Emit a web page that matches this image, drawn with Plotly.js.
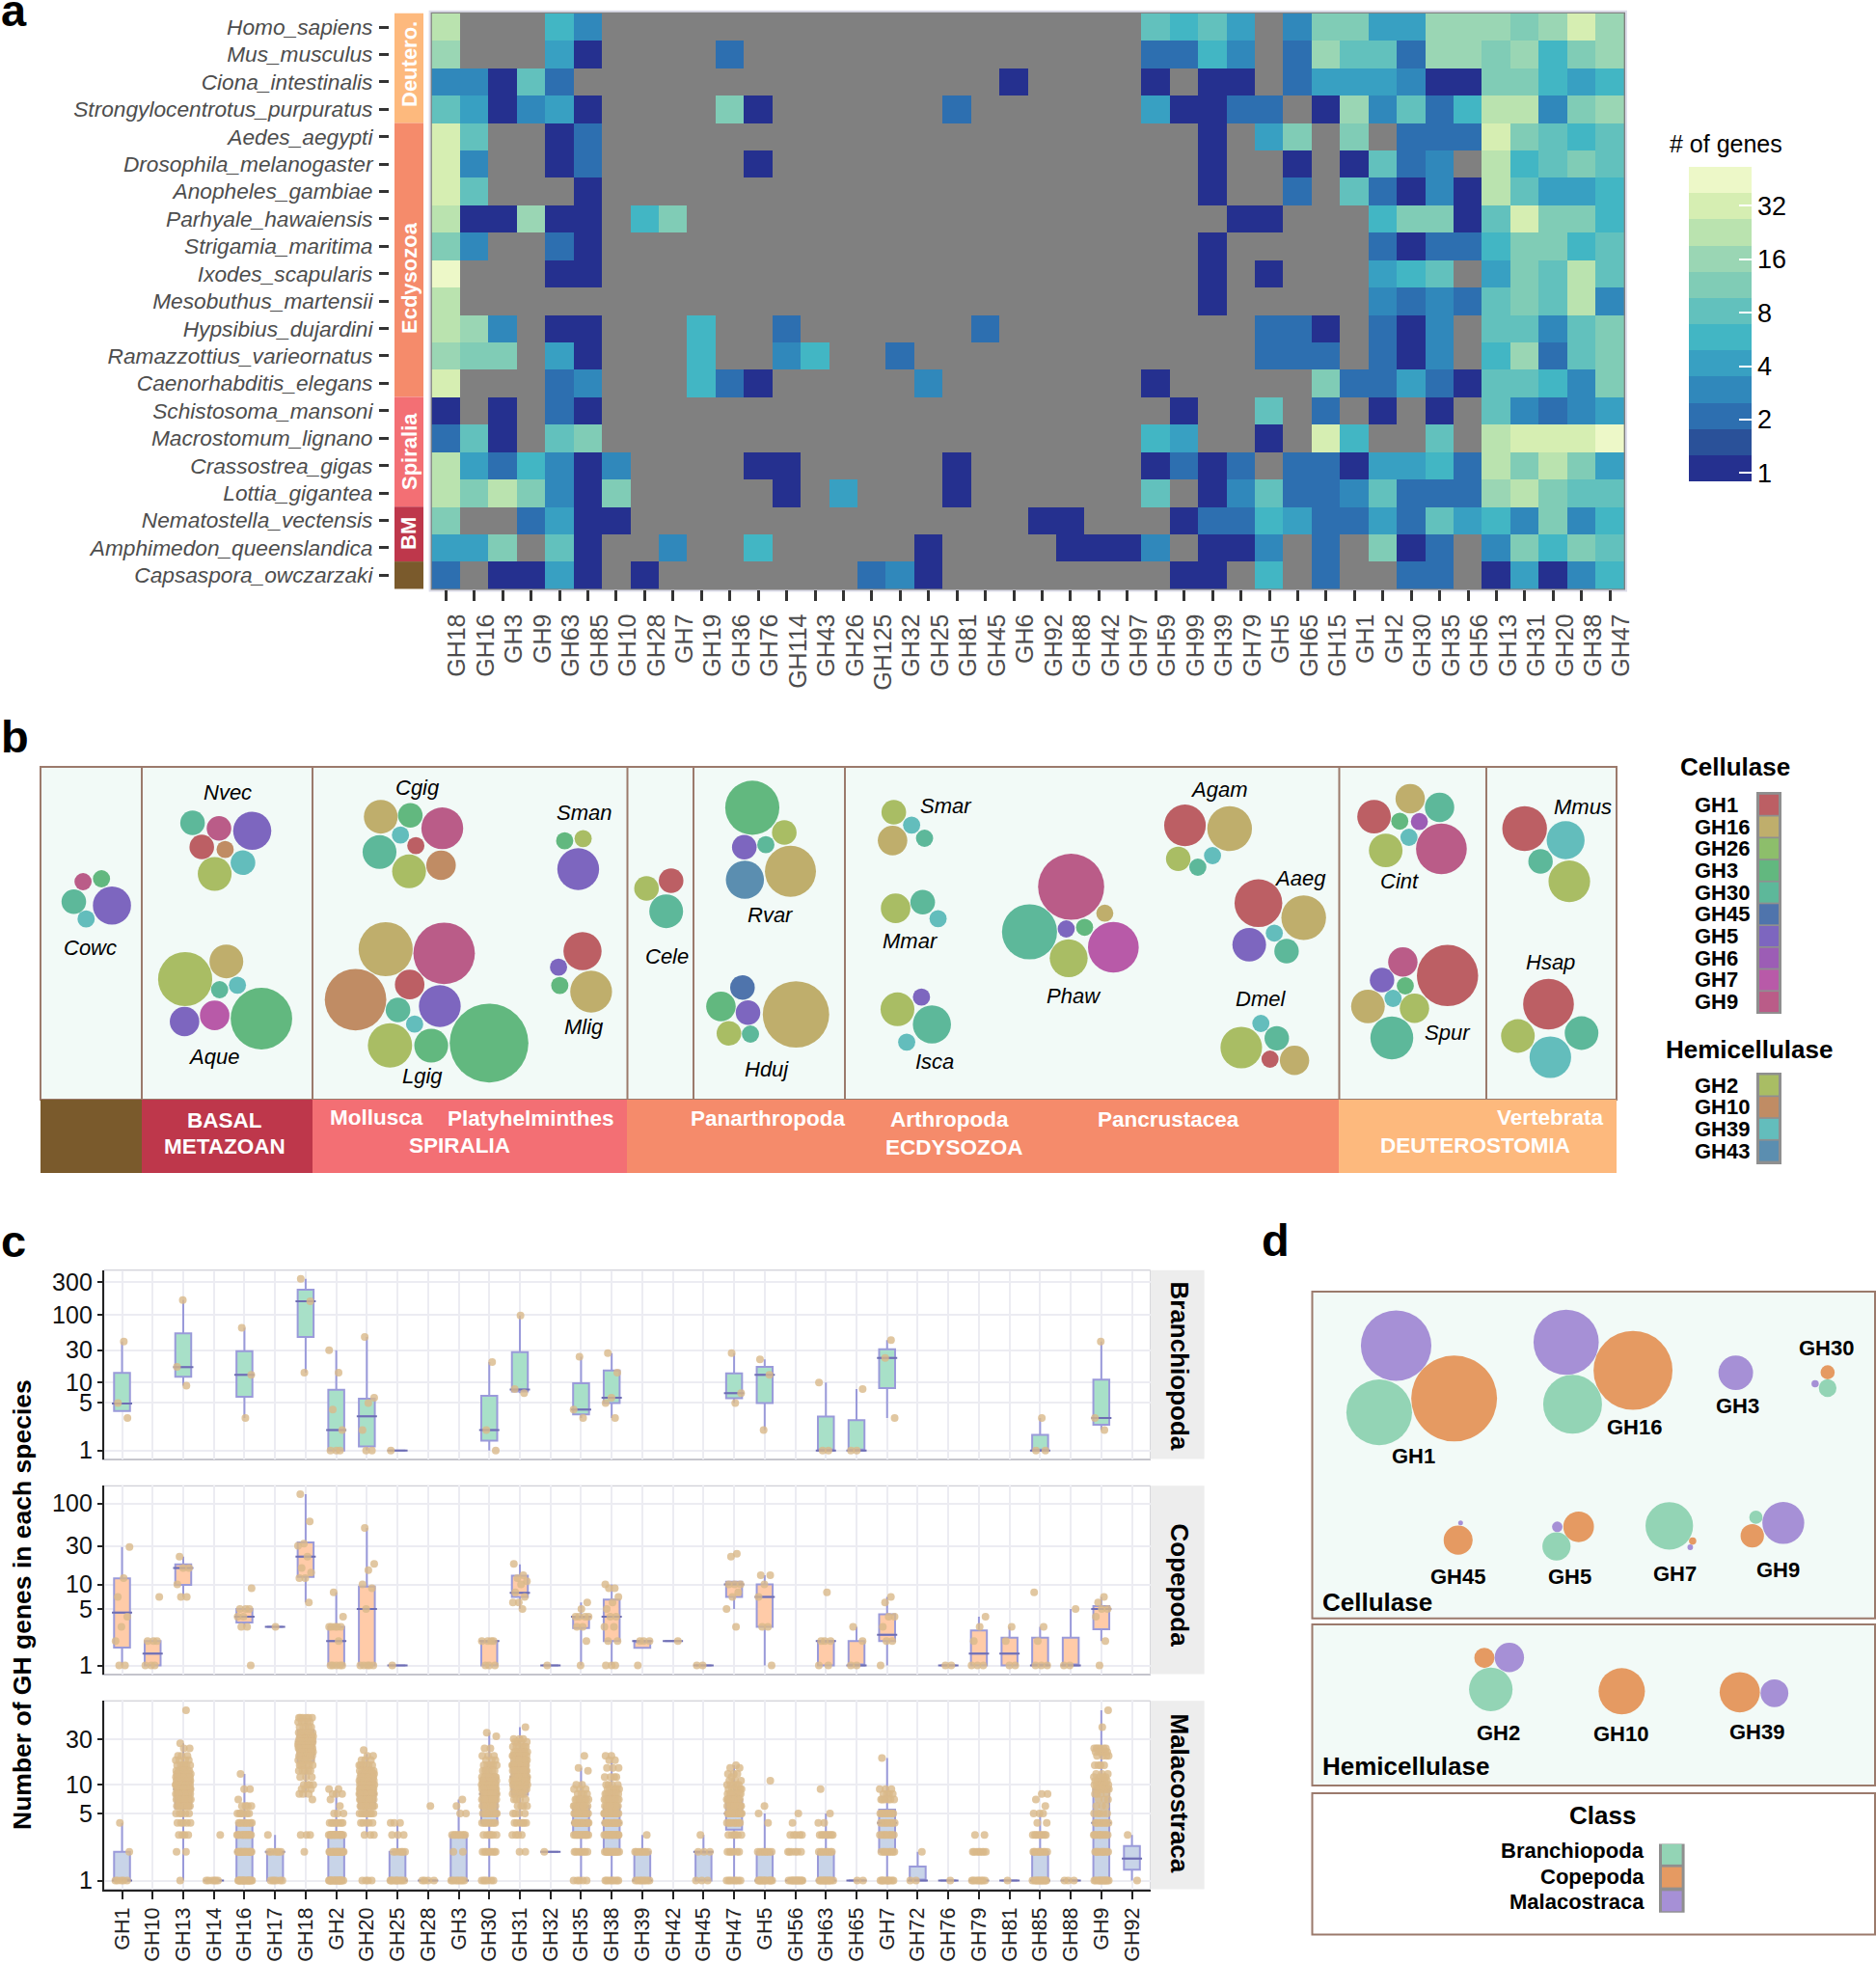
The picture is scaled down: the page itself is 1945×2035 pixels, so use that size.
<!DOCTYPE html>
<html><head><meta charset="utf-8">
<script src="https://cdn.plot.ly/plotly-3.0.1.min.js"></script>
<style>html,body{margin:0;padding:0;background:#fff}</style></head>
<body><div id="chart" style="width:1945px;height:2035px"></div>
<script>
/* ---------- panel a: gene counts per species and GH family (0 = none) ---------- */
const heatFamilies = ["GH18","GH16","GH3","GH9","GH63","GH85","GH10","GH28","GH7","GH19","GH36","GH76","GH114","GH43","GH26","GH125","GH32","GH25","GH81","GH45","GH6","GH92","GH88","GH42","GH97","GH59","GH99","GH39","GH79","GH5","GH65","GH15","GH1","GH2","GH30","GH35","GH56","GH13","GH31","GH20","GH38","GH47"];
const heatSpecies = ["Homo_sapiens","Mus_musculus","Ciona_intestinalis","Strongylocentrotus_purpuratus","Aedes_aegypti","Drosophila_melanogaster","Anopheles_gambiae","Parhyale_hawaiensis","Strigamia_maritima","Ixodes_scapularis","Mesobuthus_martensii","Hypsibius_dujardini","Ramazzottius_varieornatus","Caenorhabditis_elegans","Schistosoma_mansoni","Macrostomum_lignano","Crassostrea_gigas","Lottia_gigantea","Nematostella_vectensis","Amphimedon_queenslandica","Capsaspora_owczarzaki"];
const Homo_sapiens = [22,0,0,0,6,3, 0,0,0,0,0,0,0,0,0,0,0,0,0,0,0,0,0,0,0, 8,6,8,4,0,3,11,11,4,4,16,16,16,11,16,32,16];
const Mus_musculus = [16,0,0,0,4,1, 0,0,0,0,2,0,0,0,0,0,0,0,0,0,0,0,0,0,0, 2,2,6,3,0,2,16,8,8,2,16,16,11,16,6,11,16];
const Ciona_intestinalis = [3,3,1,8,2,0, 0,0,0,0,0,0,0,0,0,0,0,0,0,0,1,0,0,0,0, 1,0,1,1,0,2,4,4,4,3,1,1,11,11,6,4,6];
const Strongylocentrotus_purpuratus = [8,4,1,3,4,1, 0,0,0,0,11,1,0,0,0,0,0,0,2,0,0,0,0,0,0, 4,1,1,2,2,0,1,16,3,8,2,6,22,22,3,11,16];
const Aedes_aegypti = [32,8,0,0,1,2, 0,0,0,0,0,0,0,0,0,0,0,0,0,0,0,0,0,0,0, 0,0,1,0,4,11,0,11,0,2,2,2,32,11,8,6,8];
const Drosophila_melanogaster = [32,3,0,0,1,2, 0,0,0,0,0,1,0,0,0,0,0,0,0,0,0,0,0,0,0, 0,0,1,0,0,1,0,1,8,2,3,0,22,6,8,11,8];
const Anopheles_gambiae = [32,8,0,0,0,1, 0,0,0,0,0,0,0,0,0,0,0,0,0,0,0,0,0,0,0, 0,0,1,0,0,2,0,8,2,1,3,1,22,8,4,4,6];
const Parhyale_hawaiensis = [22,1,1,16,1,1, 0,6,11,0,0,0,0,0,0,0,0,0,0,0,0,0,0,0,0, 0,0,0,1,1,0,0,0,6,11,11,1,8,32,11,11,6];
const Strigamia_maritima = [11,3,0,0,2,1, 0,0,0,0,0,0,0,0,0,0,0,0,0,0,0,0,0,0,0, 0,0,1,0,0,0,0,0,2,1,2,2,6,11,11,6,8];
const Ixodes_scapularis = [45,0,0,0,1,1, 0,0,0,0,0,0,0,0,0,0,0,0,0,0,0,0,0,0,0, 0,0,1,0,1,0,0,0,4,6,8,0,4,11,8,22,8];
const Mesobuthus_martensii = [22,0,0,0,0,0, 0,0,0,0,0,0,0,0,0,0,0,0,0,0,0,0,0,0,0, 0,0,1,0,0,0,0,0,3,2,3,2,8,11,8,22,3];
const Hypsibius_dujardini = [22,16,3,0,1,1, 0,0,0,6,0,0,2,0,0,0,0,0,0,2,0,0,0,0,0, 0,0,0,0,2,2,1,0,2,1,3,0,8,8,3,8,11];
const Ramazzottius_varieornatus = [16,11,11,0,4,1, 0,0,0,6,0,0,3,6,0,0,2,0,0,0,0,0,0,0,0, 0,0,0,0,2,2,2,0,2,1,3,0,6,16,2,8,11];
const Caenorhabditis_elegans = [32,0,0,0,2,3, 0,0,0,6,2,1,0,0,0,0,0,3,0,0,0,0,0,0,0, 1,0,0,0,0,0,11,2,2,4,2,1,8,8,6,3,11];
const Schistosoma_mansoni = [1,0,1,0,2,1, 0,0,0,0,0,0,0,0,0,0,0,0,0,0,0,0,0,0,0, 0,1,0,0,8,0,2,0,1,0,1,0,8,3,2,3,4];
const Macrostomum_lignano = [2,8,1,0,8,11, 0,0,0,0,0,0,0,0,0,0,0,0,0,0,0,0,0,0,0, 6,4,0,0,1,0,32,6,0,0,8,0,22,32,32,32,45];
const Crassostrea_gigas = [22,4,2,6,3,1, 3,0,0,0,0,1,1,0,0,0,0,0,1,0,0,0,0,0,0, 1,2,1,2,0,2,2,1,4,4,6,2,22,11,22,11,4];
const Lottia_gigantea = [22,11,22,11,3,1, 11,0,0,0,0,0,1,0,4,0,0,0,1,0,0,0,0,0,0, 8,0,1,3,8,2,2,3,8,2,2,2,16,22,11,8,8];
const Nematostella_vectensis = [11,0,0,2,4,1, 1,0,0,0,0,0,0,0,0,0,0,0,0,0,0,1,1,0,0, 0,1,2,2,6,4,2,2,4,2,8,4,6,3,11,3,6];
const Amphimedon_queenslandica = [4,4,11,0,8,1, 0,0,3,0,0,6,0,0,0,0,0,1,0,0,0,0,1,1,1, 3,0,1,1,3,0,2,0,11,1,2,0,3,11,6,11,8];
const Capsaspora_owczarzaki = [2,0,1,1,4,1, 0,1,0,0,0,0,0,0,0,2,3,1,0,0,0,0,0,0,0, 0,1,1,0,6,0,2,0,0,2,2,0,1,4,1,3,6];
const heatRows = [Homo_sapiens,Mus_musculus,Ciona_intestinalis,Strongylocentrotus_purpuratus,Aedes_aegypti,Drosophila_melanogaster,Anopheles_gambiae,Parhyale_hawaiensis,Strigamia_maritima,Ixodes_scapularis,Mesobuthus_martensii,Hypsibius_dujardini,Ramazzottius_varieornatus,Caenorhabditis_elegans,Schistosoma_mansoni,Macrostomum_lignano,Crassostrea_gigas,Lottia_gigantea,Nematostella_vectensis,Amphimedon_queenslandica,Capsaspora_owczarzaki];
const heatColors = ["#25308F","#2A5199","#2D6FB0","#3088BB","#38A0C2","#42B6C4","#62C1BD","#80CCB6","#9AD6B4","#BAE3AF","#D6EEB2","#EDF8C8"];
const colorTicks = [1,2,4,8,16,32];

/* ---------- panel b: GH families and bubbles [family, x, y, diameter] as read ---------- */
const famColors = {GH1:"#BC5F64",GH16:"#BFAE6C",GH26:"#8DBE6B",GH3:"#62B87F",GH30:"#5DB89A",GH45:"#4F74AC",GH5:"#7D66BF",GH6:"#9C5DB5",GH7:"#B85AA8",GH9:"#BA5C88",GH2:"#A9BD64",GH10:"#C08C64",GH39:"#63BDBC",GH43:"#5B8EB0"};
const cellulaseFamilies = ["GH1","GH16","GH26","GH3","GH30","GH45","GH5","GH6","GH7","GH9"];
const hemicellulaseFamilies = ["GH2","GH10","GH39","GH43"];
const Cowc=[["GH9",135,522,28],["GH3",165,513,28],["GH30",120,584,40],["GH5",182,596,62],["GH39",140,638,28]];
const Nvec=[["GH30",313,339,40],["GH9",356,356,40],["GH5",410,364,62],["GH1",328,414,40],["GH10",366,422,28],["GH39",395,463,40],["GH2",349,498,55]];
const Cgig=[["GH16",619,320,55],["GH3",667,316,40],["GH9",719,356,68],["GH39",651,377,28],["GH1",676,410,28],["GH30",617,430,55],["GH10",717,471,48],["GH2",665,490,55]];
const Sman=[["GH3",918,395,28],["GH2",948,388,28],["GH5",940,483,68]];
const Aque=[["GH2",301,825,88],["GH16",368,770,55],["GH39",386,844,28],["GH30",357,858,28],["GH3",425,948,100],["GH7",349,938,48],["GH5",300,957,48]];
const Lgig=[["GH16",627,732,88],["GH9",722,745,100],["GH10",578,889,100],["GH1",666,842,48],["GH5",715,909,68],["GH30",647,921,40],["GH39",674,965,28],["GH2",634,1031,72],["GH3",701,1032,55],["GH3",795,1024,128]];
const Mlig=[["GH1",947,738,62],["GH5",908,788,28],["GH3",910,845,28],["GH16",961,864,68]];
const Cele=[["GH2",1051,543,40],["GH1",1091,519,40],["GH30",1083,614,55]];
const Rvar=[["GH3",1223,292,88],["GH2",1275,369,40],["GH5",1210,415,40],["GH30",1245,407,28],["GH16",1285,490,83],["GH43",1211,516,62]];
const Hduj=[["GH45",1207,851,40],["GH3",1172,910,48],["GH5",1216,929,40],["GH2",1185,994,40],["GH30",1220,996,28],["GH16",1294,935,108]];
const Smar=[["GH2",1453,306,40],["GH39",1482,346,28],["GH30",1503,387,28],["GH16",1451,394,48]];
const Mmar=[["GH2",1456,605,48],["GH30",1500,586,40],["GH39",1525,637,28]];
const Isca=[["GH2",1459,919,55],["GH5",1498,881,28],["GH30",1515,966,62],["GH39",1474,1021,28]];
const Agam=[["GH1",439,347,68],["GH16",512,357,73],["GH2",428,451,40],["GH39",484,441,28],["GH30",460,477,28]];
const Phaw=[["GH9",253,538,108],["GH30",185,678,90],["GH5",245,669,28],["GH3",275,664,28],["GH16",308,620,28],["GH7",322,726,83],["GH2",249,760,62]];
const Aaeg=[["GH1",559,589,78],["GH16",633,634,73],["GH5",544,718,55],["GH39",585,682,28],["GH30",605,738,40]];
const Dmel=[["GH39",563,963,28],["GH30",589,1009,40],["GH2",531,1038,68],["GH1",578,1074,28],["GH16",618,1078,48]];
const Cint=[["GH16",807,264,48],["GH30",855,291,48],["GH1",748,320,55],["GH3",790,334,28],["GH6",822,335,28],["GH39",805,384,28],["GH2",767,425,55],["GH9",858,420,83]];
const Spur=[["GH9",795,772,48],["GH1",868,814,100],["GH5",761,828,40],["GH3",799,846,28],["GH39",779,885,28],["GH16",738,910,55],["GH2",814,916,48],["GH30",777,1008,70]];
const Mmus=[["GH1",994,357,73],["GH39",1061,393,62],["GH30",1020,459,40],["GH2",1067,521,68]];
const Hsap=[["GH1",1033,903,83],["GH30",1087,993,55],["GH2",983,1002,55],["GH39",1036,1068,68]];
const bubblesLeft=[Cowc,Nvec,Cgig,Sman,Aque,Lgig,Mlig,Cele,Rvar,Hduj,Smar,Mmar,Isca];
const bubblesRight=[Agam,Phaw,Aaeg,Dmel,Cint,Spur,Mmus,Hsap];
const speciesLabelsLeft=[["Nvec",370,245],["Cgig",679,230],["Sman",949,306],["Cowc",146,727],["Rvar",1253,627],["Cele",1085,754],["Aque",348,1067],["Lgig",686,1127],["Mlig",949,974],["Hduj",1247,1104],["Smar",1538,285],["Mmar",1480,708],["Isca",1519,1080]];
const speciesLabelsRight=[["Agam",494,235],["Aaeg",628,510],["Phaw",258,876],["Dmel",563,887],["Cint",789,519],["Spur",868,992],["Mmus",1089,290],["Hsap",1037,771]];

/* ---------- panel c: boxes [family, q1, median, q3, low, high] and points ---------- */
const boxFamilies=["GH1","GH10","GH13","GH14","GH16","GH17","GH18","GH2","GH20","GH25","GH28","GH3","GH30","GH31","GH32","GH35","GH38","GH39","GH42","GH45","GH47","GH5","GH56","GH63","GH65","GH7","GH72","GH76","GH79","GH81","GH85","GH88","GH9","GH92"];
const branchioBoxes=[["GH1",3.8,4.9,13.9,3.8,40],["GH13",12.2,16.9,53,9,163],["GH16",6.2,13,29,3,64],["GH18",47,157,232,14,336],["GH2",1,2,7.8,1,30],["GH20",1.15,3.2,5.8,1,47],["GH25",1,1,1,1,1],["GH30",1.4,2,6.4,1,20],["GH31",7.4,7.9,28,7,97],["GH35",3.4,4,9.8,3,24],["GH38",5,6,15,3,27],["GH47",5.9,7,13.7,5,27],["GH5",5,13,17,2,22],["GH63",1,1,3.15,1,10],["GH65",1,1,2.8,1,8],["GH7",8.3,23,31,3,42],["GH85",1,1,1.7,1,3],["GH9",2.4,3,11,2,40]];
const branchioPoints={GH1:[40,5,3],GH13:[163,17,9],GH16:[64,13,3],GH18:[336,157,14],GH2:[30,14,4,2,1,1,1],GH20:[47,6,5,2,1,1],GH25:[1],GH30:[20,2,1],GH31:[97,8,7],GH35:[24,4,3],GH38:[27,14,6,5,3],GH47:[27,7,5],GH5:[22,13,2],GH63:[10,1,1],GH65:[8,1,1],GH7:[42,23,3],GH85:[3,1,1],GH9:[40,3,2]};
const copeBoxes=[["GH1",1.67,4.5,11.9,1,29],["GH10",1,1.4,2,1,2],["GH13",9.9,16,17.7,7,22],["GH16",3.4,4,5,3,5],["GH17",3,3,3,3,3],["GH18",12.4,22,33,6,130],["GH2",1,2,3,1,8],["GH20",1,5,9.4,1,50],["GH25",1,1,1,1,1],["GH30",1,2,2,1,2],["GH31",7,7.9,12.8,5,17.7],["GH32",1,1,1,1,1],["GH35",2.9,4,4,1,6],["GH38",2,4,6.5,1,10],["GH39",1.65,2,2,1.65,2],["GH42",2,2,2,2,2],["GH45",1,1,1,1,1],["GH47",7,10,10.8,5,10.8],["GH5",3,7,10,1,13],["GH63",1,2,2,1,2],["GH65",1,1,2,1,3],["GH7",2,2.4,4.3,1,7],["GH76",1,1,1,1,1],["GH79",1,1.4,2.7,1,4],["GH81",1,1.4,2.2,1,3],["GH85",1,1,2.2,1,3],["GH88",1,1,2.2,1,5],["GH9",2.8,5,5.4,2,7]];
const copePoints={GH1:[29,12,7,4,3,2,1,1],GH10:[7,2,2,2,1,1,1],GH13:[22,16,16,10,7,7],GH16:[9,5,5,5,4,4,3,3,1],GH17:[3],GH18:[130,60,32,30,22,16,14,12,12,6],GH2:[8,4,3,3,3,3,3,2,1,1,1,1,1],GH20:[50,18,15,10,9,5,1,1,1,1,1],GH25:[1],GH30:[2,2,2,2,1,1,1],GH31:[18,13,12,11,10,8,7,6,6,5],GH32:[1],GH35:[6,5,4,4,4,4,3,3,2,1],GH38:[10,9,9,7,6,5,4,4,3,3,2,2,1,1,1],GH39:[2,2,2,1],GH42:[2],GH45:[1,1],GH47:[24,22,10,10,10,8,7,5,3],GH5:[13,13,10,7,3,3,1],GH63:[8,2,2,2,1,1],GH65:[3,2,1,1],GH7:[7,6,4,4,3,2,2,1],GH76:[1,1],GH79:[4,3,2,1,1,1],GH81:[3,2,1,1],GH85:[8,3,2,1,1,1],GH88:[5,1,1],GH9:[7,6,5,5,4,2,1]};
const malaBoxes=[["GH1",1,1,2,1,4],["GH13",5.7,9,13.5,1,27],["GH14",1,1,1,1,1],["GH16",1,2,4,1,13],["GH17",1,2,2,1,3],["GH18",17.5,28,37,7.4,50],["GH2",1,2,3,1,9],["GH20",5.7,8,10.8,3,21],["GH25",1,1,2,1,4],["GH28",1,1,1,1,1],["GH3",1,1,3,1,7],["GH30",4,8,11.8,1,35],["GH31",7.9,12,17.5,3,40],["GH32",2,2,2,2,2],["GH35",3,4,6,1,15],["GH38",2,4,6,1,18],["GH39",1,1,2,1,3],["GH45",1,2,2,1,3],["GH47",3.4,5,7,1,16],["GH5",1,1,2,1,5],["GH56",1,1,1,1,1],["GH63",1,1,2,1,5],["GH65",1,1,1,1,1],["GH7",2,4,5.5,1,19],["GH72",1,1,1.4,1,2],["GH76",1,1,1,1,1],["GH79",1,1,1,1,1],["GH81",1,1,1,1,1],["GH85",1,1,2,1,5],["GH88",1,1,1,1,1],["GH9",1,4,9,1,60],["GH92",1.3,1.7,2.3,1,3]];
/* Malacostraca points: [value, how many species] */
const malaPoints={GH1:[[4,1],[2,1],[1,5]],GH13:[[60,1],[27,1],[24,2],[20,3],[18,4],[16,6],[14,8],[13,10],[12,12],[11,14],[10,16],[9,16],[8,14],[7,12],[6,10],[5,5],[4,5],[3,4],[2,2],[1,1]],GH14:[[3,1],[1,6]],GH16:[[13,1],[9,2],[7,1],[6,4],[5,6],[4,8],[3,12],[2,16],[1,16]],GH17:[[3,1],[2,6],[1,6]],GH18:[[50,6],[45,5],[40,5],[35,8],[32,8],[30,10],[28,12],[26,12],[24,12],[22,10],[20,8],[18,6],[16,6],[14,5],[12,3],[10,4],[9,3],[8,3],[7,1],[3,3],[2,1]],GH2:[[9,2],[8,3],[7,1],[6,1],[5,3],[4,8],[3,16],[2,18],[1,18]],GH20:[[23,1],[20,2],[18,3],[16,6],[14,8],[13,8],[12,10],[11,12],[10,14],[9,16],[8,16],[7,14],[6,12],[5,8],[4,5],[3,3],[1,4]],GH25:[[4,3],[3,3],[2,6],[1,10]],GH28:[[6,1],[1,4]],GH3:[[7,1],[6,1],[5,2],[3,8],[2,2],[1,8]],GH30:[[35,1],[32,1],[24,2],[20,3],[18,3],[16,6],[14,6],[12,10],[11,10],[10,12],[9,14],[8,12],[7,14],[6,8],[5,10],[4,8],[3,6],[2,8],[1,6]],GH31:[[40,1],[30,3],[28,4],[25,6],[22,8],[20,10],[18,12],[16,14],[14,14],[12,14],[11,12],[10,10],[9,8],[8,6],[7,4],[6,4],[5,4],[4,6],[3,4],[2,2]],GH32:[[2,1]],GH35:[[20,1],[15,1],[14,1],[10,2],[9,3],[8,4],[7,8],[6,10],[5,14],[4,16],[3,14],[2,8],[1,5]],GH38:[[20,2],[18,2],[15,3],[12,4],[10,4],[9,6],[8,8],[7,10],[6,12],[5,14],[4,14],[3,16],[2,14],[1,8]],GH39:[[3,1],[2,8],[1,8]],GH45:[[3,1],[2,3],[1,3]],GH47:[[16,1],[15,2],[13,3],[12,1],[11,3],[10,5],[9,6],[8,8],[7,10],[6,12],[5,12],[4,8],[3,6],[2,6],[1,8]],GH5:[[11,1],[6,1],[5,1],[4,1],[2,8],[1,12]],GH56:[[5,1],[4,1],[3,5],[2,6],[1,12]],GH63:[[9,1],[5,1],[4,2],[3,8],[2,8],[1,12]],GH65:[[1,2]],GH7:[[19,1],[9,3],[8,4],[7,6],[5,8],[4,8],[3,8],[2,8],[1,10]],GH72:[[2,1],[1,2]],GH76:[[1,1]],GH79:[[3,2],[2,8],[1,8]],GH81:[[1,1]],GH85:[[8,2],[7,1],[6,1],[5,3],[4,2],[3,8],[2,10],[1,12]],GH88:[[1,3]],GH9:[[60,1],[40,1],[24,6],[22,5],[20,4],[16,4],[13,3],[12,4],[11,5],[10,8],[9,8],[8,4],[7,3],[6,3],[5,5],[4,8],[3,10],[2,10],[1,12]],GH92:[[3,1],[1,1]]};

/* ---------- panel d: bubbles [class, x, y, diameter] ---------- */
const classColors={B:"#93D4B5",C:"#E59A62",M:"#A690D6"};
const classNames=["Branchiopoda","Copepoda","Malacostraca"];
const dGH1=[["M",377,273,175],["C",521,384,213],["B",335,413,163]];
const dGH16=[["M",799,266,162],["C",965,325,196],["B",815,396,146]];
const dGH3=[["M",1220,330,86]];
const dGH30=[["C",1448,329,35],["M",1417,353,18],["B",1448,362,44]];
const dGH45=[["C",531,681,72],["M",537,645,12]];
const dGH5=[["C",830,653,76],["M",777,653,26],["B",775,694,70]];
const dGH7=[["B",1055,651,118],["C",1113,683,18],["M",1107,696,14]];
const dGH9=[["M",1338,645,104],["B",1270,633,33],["C",1261,672,58]];
const dGH2=[["C",596,928,50],["M",658,927,73],["B",612,994,108]];
const dGH10=[["C",937,998,115]];
const dGH39=[["C",1230,1000,100],["M",1316,1002,69]];
const dBubbles=[dGH1,dGH16,dGH3,dGH30,dGH45,dGH5,dGH7,dGH9,dGH2,dGH10,dGH39];
const dLabels=[["GH1",419,505],["GH16",968,444],["GH3",1225,400],["GH30",1444,278],["GH45",530,758],["GH5",808,757],["GH7",1068,751],["GH9",1324,743],["GH2",631,1086],["GH10",935,1087],["GH39",1273,1084]];

/* ---------- page helpers ---------- */
const W=1945,H=2035,FONT="Liberation Sans";
const px=x=>x/W, py=y=>1-y/H;
const anns=[],shapes=[];
function txt(x,y,text,o={}){anns.push({xref:"paper",yref:"paper",x:px(x),y:py(y),text,showarrow:false,xanchor:o.anchor||"center",yanchor:"middle",textangle:o.angle||0,borderpad:0,
  font:{family:FONT,size:o.size||22,color:o.color||"#000",weight:o.bold?"bold":"normal",style:o.italic?"italic":"normal"}});}
function rect(x0,y0,x1,y1,fill,line,lw,layer){shapes.push({type:"rect",xref:"paper",yref:"paper",x0:px(x0),x1:px(x1),y0:py(y0),y1:py(y1),fillcolor:fill||"rgba(0,0,0,0)",line:{color:line||"rgba(0,0,0,0)",width:line?(lw||1):0},layer:layer||"below"});}

const traces=[];
const layout={width:W,height:H,margin:{l:0,r:0,t:0,b:0,pad:0},paper_bgcolor:"#fff",plot_bgcolor:"rgba(0,0,0,0)",showlegend:false,hovermode:false,font:{family:FONT},annotations:anns,shapes:shapes};

/* page-wide pixel axes used by the packed bubbles */
layout.xaxis9={domain:[0,1],range:[0,W],visible:false,fixedrange:true,anchor:"y9"};
layout.yaxis9={domain:[0,1],range:[H,0],visible:false,fixedrange:true,anchor:"x9"};

/* ---------- panel a ---------- */
const hL=447.6,hR=1684,hT=13.8,hB=610.5,rowH=(hB-hT)/21;
rect(hL-2,hT-2,hR+2,hB+2,"#808080","#DDDDEA",2);
const zMin=-0.155,zMax=5.73,bins=heatColors.length;
const cs=[];heatColors.forEach((c,k)=>{cs.push([k/bins,c],[(k+1)/bins,c]);});
traces.push({type:"heatmap",x:heatFamilies,y:heatSpecies,z:heatRows.map(r=>r.map(v=>v>0?Math.log2(v):null)),xaxis:"x",yaxis:"y",zmin:zMin,zmax:zMax,zauto:false,colorscale:cs,hoverongaps:false,
  colorbar:{x:1751/W,xanchor:"left",y:py(173),yanchor:"top",thickness:65,thicknessmode:"pixels",len:326,lenmode:"pixels",xpad:0,ypad:0,outlinewidth:0,borderwidth:0,
    tickmode:"array",tickvals:colorTicks.map(v=>Math.log2(v)),ticktext:colorTicks.map(String),ticks:"inside",ticklen:13,tickwidth:2,tickcolor:"#fff",tickfont:{family:FONT,size:27,color:"#000"}}});
layout.xaxis={domain:[px(hL),px(hR)],anchor:"y",type:"category",categoryorder:"array",categoryarray:heatFamilies,range:[-0.5,41.5],ticks:"outside",ticklen:11,tickwidth:3,tickcolor:"#333",tickangle:-90,ticklabelstandoff:4,ticklabelshift:12,tickfont:{family:FONT,size:25,color:"#4d4d4d"},showgrid:false,zeroline:false,fixedrange:true,tickmode:"array",tickvals:heatFamilies,ticktext:heatFamilies};
layout.yaxis={domain:[py(hB),py(hT)],anchor:"free",position:px(403),type:"category",categoryorder:"array",categoryarray:heatSpecies,range:[20.5,-0.5],ticks:"outside",ticklen:10,tickwidth:3,tickcolor:"#333",ticklabelstandoff:2,tickfont:{family:FONT,size:22.7,color:"#4d4d4d",style:"italic"},showgrid:false,zeroline:false,fixedrange:true,tickmode:"array",tickvals:heatSpecies,ticktext:heatSpecies};
const stripGroups=[["Deutero.",0,4,"#FDB97D",67],["Ecdysozoa",4,14,"#F58B6B",288],["Spiralia",14,18,"#F36F74",468],["BM",18,20,"#BE374B",553],["",20,21,"#7A5A2C",0]];
stripGroups.forEach(g=>{const y0=hT+g[1]*rowH,y1=hT+g[2]*rowH;rect(409,y0,439,y1,g[3]);if(g[0])txt(424,g[4],g[0],{size:22,bold:true,color:"#fff",angle:-90});});
[0,1,2,3,4,5].forEach(i=>{const yy=[490.4,433,377.4,321.9,265,213.5][i];shapes.push({type:"line",xref:"paper",yref:"paper",x0:px(1751),x1:px(1764),y0:py(yy),y1:py(yy),line:{color:"#fff",width:2},layer:"above"});});
txt(1789,149,"# of genes",{size:25});

/* ---------- panel b ---------- */
const mint="#F2FAF7",edge="#9B7A6C";
rect(42,795,1676,1140,mint,edge,2);
[147,324,650.5,719,876,1388.5,1541].forEach(x=>{shapes.push({type:"line",xref:"paper",yref:"paper",x0:px(x),x1:px(x),y0:py(795),y1:py(1140),line:{color:edge,width:2},layer:"below"});});
[[42,147,"#7A5A2C"],[147,324,"#BE374B"],[324,650,"#F36F74"],[650,1388,"#F58B6B"],[1388,1676,"#FDB97D"]].forEach(s=>rect(s[0],1140,s[1],1216,s[2]));
const ww={size:22.5,bold:true,color:"#fff"};
txt(233,1161,"BASAL",ww);txt(233,1188,"METAZOAN",ww);txt(390,1158,"Mollusca",ww);txt(550,1159,"Platyhelminthes",ww);txt(476,1187,"SPIRALIA",ww);
txt(796,1159,"Panarthropoda",ww);txt(984,1160,"Arthropoda",ww);txt(1211,1160,"Pancrustacea",ww);txt(989,1189,"ECDYSOZOA",ww);txt(1607,1158,"Vertebrata",ww);txt(1529,1187,"DEUTEROSTOMIA",ww);
function addBubbles(groups,fx,fy,fd,colors){const all=groups.flat();traces.push({type:"scatter",mode:"markers",xaxis:"x9",yaxis:"y9",x:all.map(b=>fx(b[1])),y:all.map(b=>fy(b[2])),marker:{size:all.map(b=>fd(b[3])),color:all.map(b=>colors[b[0]]),line:{width:0},opacity:1},cliponaxis:false});}
const lx=X=>X/1.568,rx=X=>950+X/1.576,by=Y=>740+Y/3;
addBubbles(bubblesLeft,lx,by,w=>w/1.568,famColors);
addBubbles(bubblesRight,rx,by,w=>w/1.576,famColors);
speciesLabelsLeft.forEach(l=>txt(lx(l[1]),by(l[2]),l[0],{size:22,italic:true}));
speciesLabelsRight.forEach(l=>txt(rx(l[1]),by(l[2]),l[0],{size:22,italic:true}));
txt(1799,795,"Cellulase",{size:26,bold:true});
txt(1813.6,1087.7,"Hemicellulase",{size:26,bold:true});
function famLegend(list,top,bottom,ys){rect(1821,top,1847,bottom,"#8F8F8F");list.forEach((f,i)=>{rect(1824,ys(i)-10.5,1844,ys(i)+10.5,famColors[f]);txt(1756,ys(i),f,{size:22,bold:true,anchor:"left"});});}
famLegend(cellulaseFamilies,821,1051,i=>834.3+i*22.7);
famLegend(hemicellulaseFamilies,1112,1207,i=>1125+i*22.7);

/* ---------- panel c ---------- */
const cL=107.8,cR=1192.6;
const panels=[
 {name:"Branchiopoda",top:1316.8,bot:1512.6,mid:1416,range:[-0.126,2.653],ticks:[1,5,10,30,100,300],fill:"#A8E0C8",boxes:branchioBoxes,pts:branchioPoints},
 {name:"Copepoda",top:1540.3,bot:1735.5,mid:1643,range:[-0.106,2.218],ticks:[1,5,10,30,100],fill:"#FFCBA8",boxes:copeBoxes,pts:copePoints},
 {name:"Malacostraca",top:1763.2,bot:1958.5,mid:1859,range:[-0.09,1.876],ticks:[1,5,10,30],fill:"#C8D4E8",boxes:malaBoxes,pts:malaPoints}];
const idx=f=>boxFamilies.indexOf(f);
panels.forEach((p,i)=>{
  const n=i+2, xn="x"+n, yn="y"+n, last=i===2;
  rect(cL,p.top,cR,p.bot,null,"#C4C4CC",1);
  rect(cR,p.top,1248.6,p.bot,"#EDEDED");
  txt(1222.5,p.mid,p.name,{size:26,bold:true,angle:90});
  layout["xaxis"+n]={domain:[px(cL),px(cR)],anchor:yn,range:[-0.59,33.6],tickmode:"array",tickvals:boxFamilies.map((f,k)=>k),ticktext:boxFamilies,showticklabels:last,ticks:last?"outside":"",ticklen:8,tickwidth:2,tickcolor:"#222",tickangle:-90,ticklabelstandoff:0,tickfont:{family:FONT,size:21.5,color:"#222"},showgrid:true,gridcolor:"#ECECF2",gridwidth:2,zeroline:false,showline:true,linecolor:last?"#222":"#C4C4CC",linewidth:last?2.5:1,fixedrange:true};
  layout["yaxis"+n]={domain:[py(p.bot),py(p.top)],anchor:xn,type:"log",range:p.range,tickmode:"array",tickvals:p.ticks,ticktext:p.ticks.map(String),ticks:"outside",ticklen:5,tickwidth:2,tickcolor:"#222",tickfont:{family:FONT,size:25,color:"#111"},showgrid:true,gridcolor:"#ECECF2",gridwidth:2,zeroline:false,showline:true,linecolor:"#222",linewidth:2,fixedrange:true};
  traces.push({type:"box",xaxis:xn,yaxis:yn,x:p.boxes.map(b=>idx(b[0])),q1:p.boxes.map(b=>b[1]),median:p.boxes.map(b=>b[2]),q3:p.boxes.map(b=>b[3]),lowerfence:p.boxes.map(b=>b[4]),upperfence:p.boxes.map(b=>b[5]),width:0.52,whiskerwidth:0,boxpoints:false,fillcolor:p.fill,line:{color:"#9A9ADA",width:2}});
  traces.push({type:"scatter",mode:"markers",xaxis:xn,yaxis:yn,x:p.boxes.map(b=>idx(b[0])),y:p.boxes.map(b=>b[2]),marker:{symbol:"line-ew",size:15,line:{color:"#6E6EB4",width:2}}});
  const xs=[],ys=[];let seq=i*0.37;
  Object.keys(p.pts).forEach(f=>{
    const list=p.pts[f];
    const vals=(Array.isArray(list[0])?list.flatMap(e=>Array(e[1]).fill(e[0])):list);
    vals.forEach(v=>{seq=(seq+0.6180339887)%1;xs.push(idx(f)+(seq-0.5)*0.5);ys.push(v);});
  });
  traces.push({type:"scatter",mode:"markers",xaxis:xn,yaxis:yn,x:xs,y:ys,marker:{size:8,color:"#D9B98A",opacity:0.8,line:{width:0}},cliponaxis:false});
});
txt(23,1664,"Number of GH genes in each species",{size:26.5,bold:true,angle:-90});

/* ---------- panel d ---------- */
const dx=X=>1290+X/2.394,dy=Y=>1260+Y/2.023;
rect(1360.5,1339,1944,1677.7,mint,edge,2);
rect(1360.5,1684,1944,1851,mint,edge,2);
rect(1360.5,1859,1944,2005.4,"#fff",edge,2);
addBubbles(dBubbles,dx,dy,w=>w/2.394,classColors);
dLabels.forEach(l=>txt(dx(l[1]),dy(l[2]),l[0],{size:22,bold:true}));
txt(dx(330),dy(812),"Cellulase",{size:26,bold:true});
txt(dx(402),dy(1155),"Hemicellulase",{size:26,bold:true});
txt(dx(890),dy(1258),"Class",{size:26,bold:true});
rect(1720,1911.5,1746.6,1982.7,"#8F8F8F");
classNames.forEach((c,i)=>{const yy=dy([1340,1388,1438][i]);rect(1723,yy-10.5,1743.6,yy+10.5,classColors["BCM"[i]]);txt(dx(995),dy([1333,1387,1440][i]),c,{size:22,bold:true,anchor:"right"});});

/* ---------- panel letters ---------- */
txt(0,10,"a",{size:47,bold:true,anchor:"left"});
txt(0,763,"b",{size:47,bold:true,anchor:"left"});
txt(0,1286,"c",{size:47,bold:true,anchor:"left"});
txt(1307,1285,"d",{size:47,bold:true,anchor:"left"});

Plotly.newPlot("chart",traces,layout,{staticPlot:true,displayModeBar:false});
</script></body></html>
